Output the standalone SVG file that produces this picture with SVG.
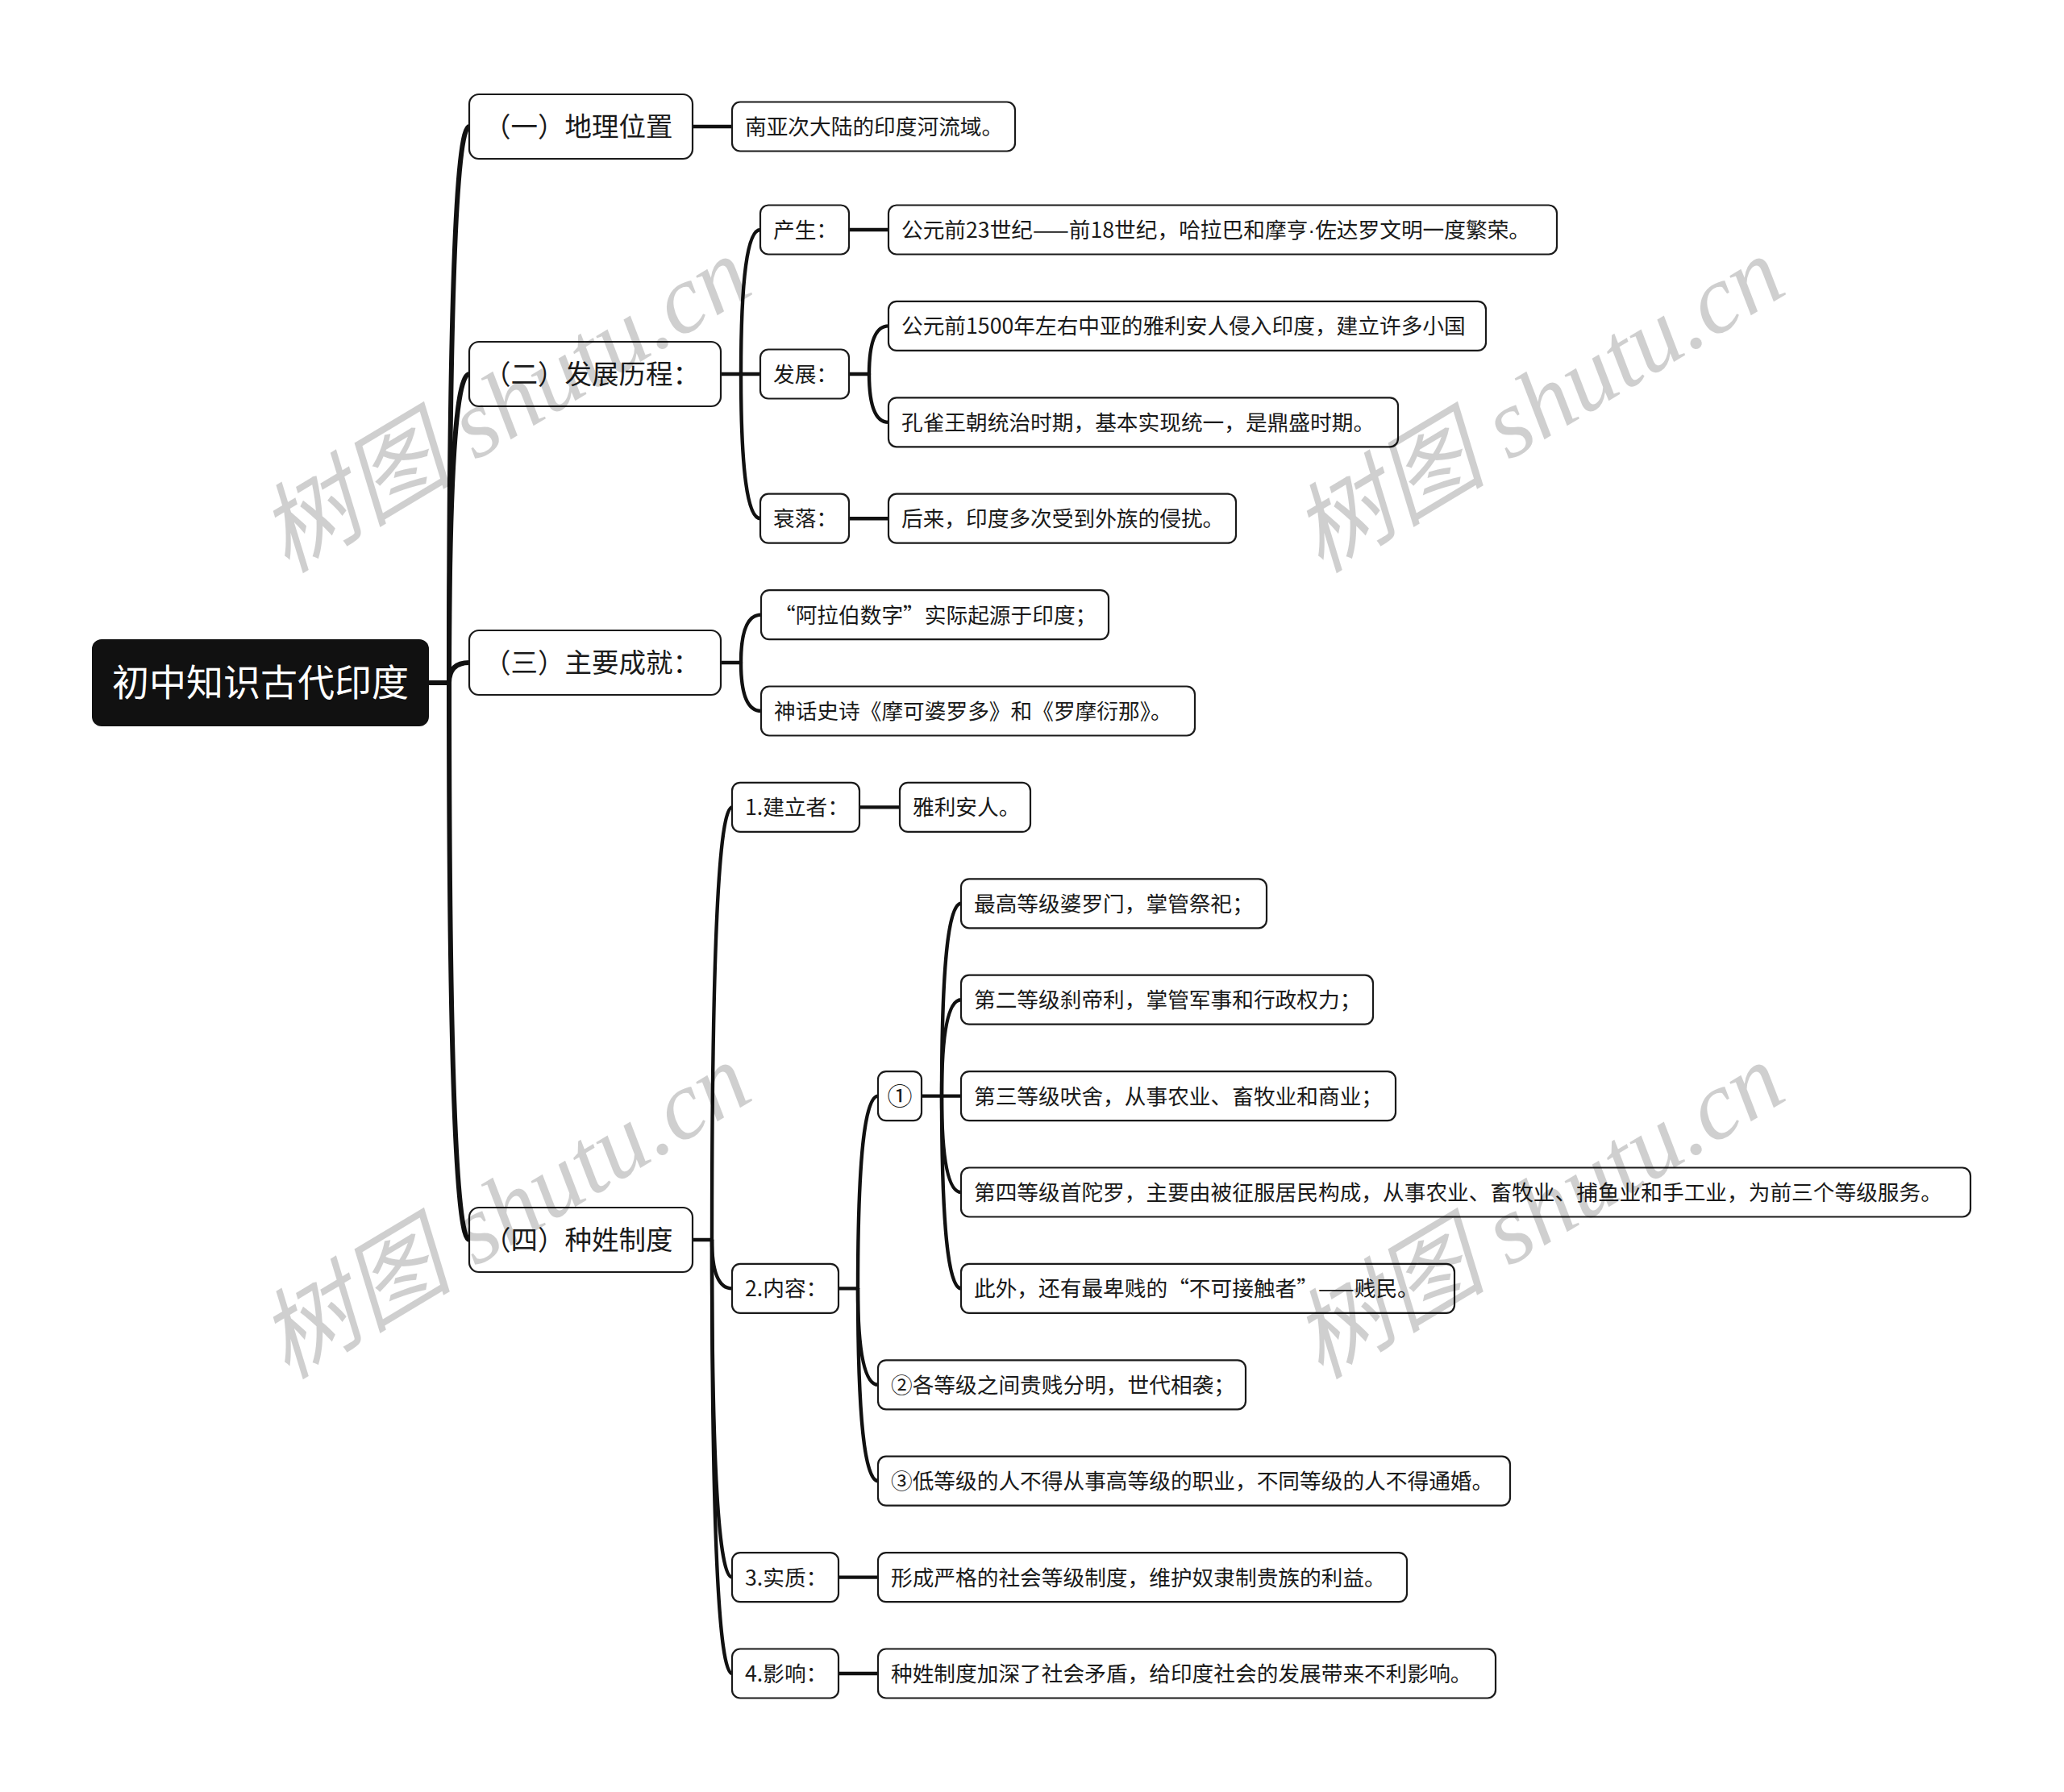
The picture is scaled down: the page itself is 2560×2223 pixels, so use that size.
<svg xmlns="http://www.w3.org/2000/svg" width="2560" height="2223" viewBox="0 0 2560 2223">
<style>
.box{fill:#fff;stroke:#1a1a1a;stroke-width:2.2}
.t{font-family:"Noto Sans CJK SC","Noto Sans",sans-serif;fill:#1a1a1a}
.l1{font-size:33.5px}
.lf{font-size:26.7px}
.rt{font-size:46px;fill:#fff}
.c{fill:none;stroke:#111;stroke-linecap:round}
.m{stroke-width:6}
.s{stroke-width:4.4}
.wm{font-family:"Liberation Serif","Noto Sans CJK SC",serif;font-style:italic;font-size:121px;fill:#000;fill-opacity:0.19}
</style>
<rect width="2560" height="2223" fill="#fff"/>
<g id="connectors">
<path class="c m" d="M532,847 H557"/>
<path class="c m" d="M557,847 Q557,157 582,157"/>
<path class="c m" d="M557,847 Q557,464 582,464"/>
<path class="c m" d="M557,847 Q557,822 582,822"/>
<path class="c m" d="M557,847 Q557,1538 582,1538"/>
<path class="c s" d="M859,157 H908"/>
<path class="c s" d="M894,464 H919"/>
<path class="c s" d="M919,464 Q919,285 943,285"/>
<path class="c s" d="M919,464 H943"/>
<path class="c s" d="M919,464 Q919,643.2 943,643.2"/>
<path class="c s" d="M1053,285 H1102"/>
<path class="c s" d="M1053,464 H1078"/>
<path class="c s" d="M1078,464 Q1078,404.4 1102,404.4"/>
<path class="c s" d="M1078,464 Q1078,523.8 1102,523.8"/>
<path class="c s" d="M1053,643.2 H1102"/>
<path class="c s" d="M894,822 H919"/>
<path class="c s" d="M919,822 Q919,762.6 944,762.6"/>
<path class="c s" d="M919,822 Q919,882 944,882"/>
<path class="c s" d="M859,1538 H883"/>
<path class="c s" d="M883,1538 Q883,1001.4 908,1001.4"/>
<path class="c s" d="M883,1538 Q883,1598.4 908,1598.4"/>
<path class="c s" d="M883,1538 Q883,1956.6 908,1956.6"/>
<path class="c s" d="M883,1538 Q883,2076 908,2076"/>
<path class="c s" d="M1066,1001.4 H1116"/>
<path class="c s" d="M1040,1598.4 H1064"/>
<path class="c s" d="M1064,1598.4 Q1064,1359.6 1089,1359.6"/>
<path class="c s" d="M1064,1598.4 Q1064,1717.8 1089,1717.8"/>
<path class="c s" d="M1064,1598.4 Q1064,1837.2 1089,1837.2"/>
<path class="c s" d="M1143,1359.6 H1168"/>
<path class="c s" d="M1168,1359.6 Q1168,1120.8 1192,1120.8"/>
<path class="c s" d="M1168,1359.6 Q1168,1240.2 1192,1240.2"/>
<path class="c s" d="M1168,1359.6 H1192"/>
<path class="c s" d="M1168,1359.6 Q1168,1479 1192,1479"/>
<path class="c s" d="M1168,1359.6 Q1168,1598.4 1192,1598.4"/>
<path class="c s" d="M1040,1956.6 H1089"/>
<path class="c s" d="M1040,2076 H1089"/>
</g>
<g id="root"><rect x="114" y="793" width="418" height="108" rx="12" fill="#111"/><text class="t rt" x="323" y="863" text-anchor="middle">初中知识古代印度</text></g>
<g id="n1"><rect class="box" x="582" y="117" width="277" height="80" rx="12"/><text class="t l1" x="600" y="169">（一）地理位置</text></g>
<g id="n2"><rect class="box" x="582" y="424" width="312" height="80" rx="12"/><text class="t l1" x="600" y="476">（二）发展历程：</text></g>
<g id="n3"><rect class="box" x="582" y="782" width="312" height="80" rx="12"/><text class="t l1" x="600" y="834">（三）主要成就：</text></g>
<g id="n4"><rect class="box" x="582" y="1498" width="277" height="80" rx="12"/><text class="t l1" x="600" y="1550">（四）种姓制度</text></g>
<g id="n1a"><rect class="box" x="908" y="126.5" width="351" height="61" rx="10"/><text class="t lf" x="924" y="167">南亚次大陆的印度河流域。</text></g>
<g id="n2a"><rect class="box" x="943" y="254.5" width="110" height="61" rx="10"/><text class="t lf" x="959" y="295">产生：</text></g>
<g id="n2a1"><rect class="box" x="1102" y="254.5" width="829" height="61" rx="10"/><text class="t lf" x="1118" y="295">公元前23世纪——前18世纪，哈拉巴和摩亨<tspan font-family="Liberation Sans, sans-serif">·</tspan>佐达罗文明一度繁荣。</text></g>
<g id="n2b"><rect class="box" x="943" y="433.5" width="110" height="61" rx="10"/><text class="t lf" x="959" y="474">发展：</text></g>
<g id="n2b1"><rect class="box" x="1102" y="373.9" width="741" height="61" rx="10"/><text class="t lf" x="1118" y="414.4">公元前1500年左右中亚的雅利安人侵入印度，建立许多小国</text></g>
<g id="n2b2"><rect class="box" x="1102" y="493.3" width="632" height="61" rx="10"/><text class="t lf" x="1118" y="533.8">孔雀王朝统治时期，基本实现统一，是鼎盛时期。</text></g>
<g id="n2c"><rect class="box" x="943" y="612.7" width="110" height="61" rx="10"/><text class="t lf" x="959" y="653.2">衰落：</text></g>
<g id="n2c1"><rect class="box" x="1102" y="612.7" width="431" height="61" rx="10"/><text class="t lf" x="1118" y="653.2">后来，印度多次受到外族的侵扰。</text></g>
<g id="n3a"><rect class="box" x="944" y="732.1" width="431" height="61" rx="10"/><text class="t lf" x="960" y="772.6">“阿拉伯数字”实际起源于印度；</text></g>
<g id="n3b"><rect class="box" x="944" y="851.5" width="538" height="61" rx="10"/><text class="t lf" x="960" y="892">神话史诗《摩可婆罗多》和《罗摩衍那》。</text></g>
<g id="n4a"><rect class="box" x="908" y="970.9" width="158" height="61" rx="10"/><text class="t lf" x="924" y="1011.4">1.建立者：</text></g>
<g id="n4a1"><rect class="box" x="1116" y="970.9" width="162" height="61" rx="10"/><text class="t lf" x="1132" y="1011.4">雅利安人。</text></g>
<g id="n4b"><rect class="box" x="908" y="1567.9" width="132" height="61" rx="10"/><text class="t lf" x="924" y="1608.4">2.内容：</text></g>
<g id="n4b1"><rect class="box" x="1089" y="1329.1" width="54" height="61" rx="10"/><text class="t" font-size="31" x="1116" y="1370.6" text-anchor="middle">①</text></g>
<g id="n4b1a"><rect class="box" x="1192" y="1090.3" width="379" height="61" rx="10"/><text class="t lf" x="1208" y="1130.8">最高等级婆罗门，掌管祭祀；</text></g>
<g id="n4b1b"><rect class="box" x="1192" y="1209.7" width="511" height="61" rx="10"/><text class="t lf" x="1208" y="1250.2">第二等级刹帝利，掌管军事和行政权力；</text></g>
<g id="n4b1c"><rect class="box" x="1192" y="1329.1" width="539" height="61" rx="10"/><text class="t lf" x="1208" y="1369.6">第三等级吠舍，从事农业、畜牧业和商业；</text></g>
<g id="n4b1d"><rect class="box" x="1192" y="1448.5" width="1252" height="61" rx="10"/><text class="t lf" x="1208" y="1489">第四等级首陀罗，主要由被征服居民构成，从事农业、畜牧业、捕鱼业和手工业，为前三个等级服务。</text></g>
<g id="n4b1e"><rect class="box" x="1192" y="1567.9" width="612" height="61" rx="10"/><text class="t lf" x="1208" y="1608.4">此外，还有最卑贱的“不可接触者”——贱民。</text></g>
<g id="n4b2"><rect class="box" x="1089" y="1687.3" width="456" height="61" rx="10"/><text class="t lf" x="1105" y="1727.8">②各等级之间贵贱分明，世代相袭；</text></g>
<g id="n4b3"><rect class="box" x="1089" y="1806.7" width="784" height="61" rx="10"/><text class="t lf" x="1105" y="1847.2">③低等级的人不得从事高等级的职业，不同等级的人不得通婚。</text></g>
<g id="n4c"><rect class="box" x="908" y="1926.1" width="132" height="61" rx="10"/><text class="t lf" x="924" y="1966.6">3.实质：</text></g>
<g id="n4c1"><rect class="box" x="1089" y="1926.1" width="656" height="61" rx="10"/><text class="t lf" x="1105" y="1966.6">形成严格的社会等级制度，维护奴隶制贵族的利益。</text></g>
<g id="n4d"><rect class="box" x="908" y="2045.5" width="132" height="61" rx="10"/><text class="t lf" x="924" y="2086">4.影响：</text></g>
<g id="n4d1"><rect class="box" x="1089" y="2045.5" width="766" height="61" rx="10"/><text class="t lf" x="1105" y="2086">种姓制度加深了社会矛盾，给印度社会的发展带来不利影响。</text></g>
<g id="watermark">
<text class="wm" transform="translate(356,712) rotate(-31)">树图 shutu.cn</text>
<text class="wm" transform="translate(1638,712) rotate(-31)">树图 shutu.cn</text>
<text class="wm" transform="translate(356,1712) rotate(-31)">树图 shutu.cn</text>
<text class="wm" transform="translate(1638,1712) rotate(-31)">树图 shutu.cn</text>
</g>
</svg>
